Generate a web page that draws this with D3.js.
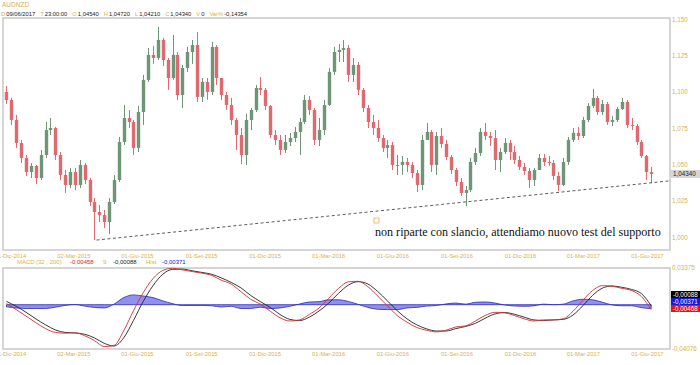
<!DOCTYPE html>
<html>
<head>
<meta charset="utf-8">
<script src="https://cdn.jsdelivr.net/npm/d3@7"></script>
<style>
body { margin: 0; background: #fff; }
text { font-family: "Liberation Sans", Arial, sans-serif; }
</style>
</head>
<body>
<div id="chart"></div>
<script>

// weekly candles, AUDNZD, first week centred on 26 Nov 2014
var firstWeek = new Date(2014, 10, 26);

var opens = [1.0998,1.0943,1.0805,1.0647,1.0544,1.0447,1.0489,1.0406,1.0564,1.0736,
  1.0750,1.0564,1.0427,1.0358,1.0447,1.0358,1.0496,1.0392,1.0241,1.0172,
  1.0151,1.0103,1.0241,1.0392,1.0654,1.0819,1.0791,1.0613,1.0860,1.1081,
  1.1253,1.1232,1.1356,1.1218,1.1094,1.1253,1.0977,1.1163,1.1273,1.1321,
  1.0964,1.1067,1.0998,1.1308,1.1094,1.0977,1.0908,1.0805,1.0702,1.0564,
  1.0805,1.0874,1.1025,1.1012,1.0902,1.0702,1.0668,1.0599,1.0654,1.0681,
  1.0723,1.0791,1.0943,1.0874,1.0668,1.0736,1.0908,1.1136,1.1273,1.1287,
  1.1301,1.1115,1.1184,1.1012,1.0888,1.0791,1.0750,1.0681,1.0613,1.0633,
  1.0496,1.0496,1.0516,1.0496,1.0440,1.0358,1.0668,1.0723,1.0496,1.0695,
  1.0640,1.0551,1.0461,1.0379,1.0303,1.0323,1.0516,1.0578,1.0723,1.0695,
  1.0681,1.0530,1.0585,1.0647,1.0585,1.0530,1.0482,1.0454,1.0392,1.0461,
  1.0544,1.0516,1.0509,1.0420,1.0358,1.0516,1.0668,1.0716,1.0695,1.0805,
  1.0902,1.0957,1.0860,1.0915,1.0791,1.0805,1.0881,1.0929,1.0771,1.0764,
  1.0654,1.0557,1.0447];
var highs = [1.1039,1.0957,1.0840,1.0668,1.0564,1.0509,1.0496,1.0599,1.0791,1.0819,
  1.0757,1.0585,1.0461,1.0475,1.0475,1.0530,1.0509,1.0406,1.0268,1.0220,
  1.0186,1.0268,1.0427,1.0688,1.0908,1.0874,1.0805,1.0902,1.1115,1.1301,
  1.1315,1.1445,1.1370,1.1232,1.1390,1.1273,1.1184,1.1308,1.1356,1.1411,
  1.1094,1.1094,1.1342,1.1321,1.1081,1.0998,1.0957,1.0819,1.0750,1.0847,
  1.0888,1.1046,1.1101,1.1025,1.0908,1.0736,1.0702,1.0702,1.0716,1.0757,
  1.0819,1.0977,1.0970,1.0888,1.0819,1.0943,1.1163,1.1308,1.1328,1.1356,
  1.1321,1.1232,1.1204,1.1025,1.0908,1.0840,1.0805,1.0702,1.0668,1.0654,
  1.0564,1.0557,1.0544,1.0516,1.0461,1.0702,1.0785,1.0736,1.0723,1.0750,
  1.0668,1.0564,1.0475,1.0406,1.0351,1.0544,1.0613,1.0750,1.0785,1.0723,
  1.0736,1.0613,1.0681,1.0668,1.0626,1.0557,1.0509,1.0475,1.0475,1.0571,
  1.0571,1.0557,1.0530,1.0447,1.0544,1.0688,1.0750,1.0757,1.0826,1.0922,
  1.1019,1.0970,1.0943,1.0929,1.0833,1.0895,1.0957,1.0943,1.0819,1.0778,
  1.0668,1.0564,1.0482];
var lows = [1.0915,1.0771,1.0613,1.0509,1.0420,1.0406,1.0365,1.0392,1.0544,1.0702,
  1.0530,1.0392,1.0303,1.0337,1.0323,1.0337,1.0365,1.0213,0.9979,1.0103,
  1.0062,1.0021,1.0227,1.0379,1.0633,1.0750,1.0564,1.0585,1.0771,1.1067,
  1.1191,1.1218,1.1177,1.1012,1.1081,1.0943,1.0888,1.1136,1.1191,1.0929,
  1.0929,1.0943,1.0977,1.1046,1.0943,1.0874,1.0771,1.0599,1.0502,1.0496,
  1.0736,1.0860,1.0977,1.0874,1.0681,1.0633,1.0564,1.0578,1.0626,1.0654,
  1.0564,1.0778,1.0840,1.0633,1.0626,1.0702,1.0902,1.1115,1.1204,1.1204,
  1.1067,1.1067,1.0977,1.0860,1.0750,1.0702,1.0654,1.0585,1.0544,1.0461,
  1.0427,1.0427,1.0447,1.0406,1.0310,1.0323,1.0668,1.0447,1.0427,1.0613,
  1.0530,1.0434,1.0351,1.0282,1.0213,1.0310,1.0496,1.0557,1.0668,1.0626,
  1.0461,1.0447,1.0571,1.0530,1.0502,1.0461,1.0427,1.0337,1.0351,1.0461,
  1.0489,1.0489,1.0392,1.0317,1.0351,1.0496,1.0654,1.0668,1.0681,1.0791,
  1.0888,1.0840,1.0840,1.0771,1.0764,1.0791,1.0874,1.0750,1.0736,1.0633,
  1.0544,1.0392,1.0372];
var closes = [1.0943,1.0805,1.0647,1.0544,1.0447,1.0489,1.0406,1.0564,1.0736,1.0750,
  1.0564,1.0427,1.0358,1.0447,1.0358,1.0496,1.0392,1.0241,1.0172,1.0151,
  1.0103,1.0241,1.0392,1.0654,1.0819,1.0791,1.0613,1.0860,1.1081,1.1253,
  1.1232,1.1356,1.1218,1.1094,1.1253,1.0977,1.1163,1.1273,1.1321,1.0964,
  1.1067,1.0998,1.1308,1.1094,1.0977,1.0908,1.0805,1.0702,1.0564,1.0805,
  1.0874,1.1025,1.1012,1.0902,1.0702,1.0668,1.0599,1.0654,1.0681,1.0723,
  1.0791,1.0943,1.0874,1.0668,1.0736,1.0908,1.1136,1.1273,1.1287,1.1301,
  1.1115,1.1184,1.1012,1.0888,1.0791,1.0750,1.0681,1.0613,1.0633,1.0496,
  1.0496,1.0516,1.0496,1.0440,1.0358,1.0668,1.0723,1.0496,1.0695,1.0640,
  1.0551,1.0461,1.0379,1.0303,1.0323,1.0516,1.0578,1.0723,1.0695,1.0681,
  1.0530,1.0585,1.0647,1.0585,1.0530,1.0482,1.0454,1.0392,1.0461,1.0544,
  1.0516,1.0509,1.0420,1.0358,1.0516,1.0668,1.0716,1.0695,1.0805,1.0902,
  1.0957,1.0860,1.0915,1.0791,1.0805,1.0881,1.0929,1.0771,1.0764,1.0654,
  1.0557,1.0447,1.0434];

// MACD (32,200) signal 9, one value every two weeks from firstWeek
var macdLine = [0.0010,-0.0045,-0.0105,-0.0165,-0.0220,-0.0255,-0.0262,-0.0258,-0.0285,-0.0330,
  -0.0385,-0.0375,-0.0240,-0.0055,0.0110,0.0240,0.0315,0.0335,0.0320,0.0305,
  0.0290,0.0270,0.0225,0.0190,0.0120,0.0050,0.0005,-0.0060,-0.0120,-0.0150,
  -0.0140,-0.0090,-0.0030,0.0060,0.0150,0.0210,0.0215,0.0165,0.0080,-0.0010,
  -0.0100,-0.0160,-0.0210,-0.0235,-0.0250,-0.0235,-0.0205,-0.0195,-0.0150,-0.0100,
  -0.0070,-0.0075,-0.0100,-0.0130,-0.0150,-0.0140,-0.0140,-0.0130,-0.0060,0.0040,
  0.0130,0.0175,0.0170,0.0150,0.0130,0.0075,-0.0046];
var signalLine = [0.0030,-0.0015,-0.0070,-0.0130,-0.0185,-0.0232,-0.0255,-0.0260,-0.0272,-0.0305,
  -0.0355,-0.0380,-0.0305,-0.0145,0.0030,0.0175,0.0280,0.0325,0.0328,0.0312,
  0.0297,0.0280,0.0246,0.0205,0.0155,0.0085,0.0028,-0.0025,-0.0090,-0.0135,
  -0.0146,-0.0115,-0.0058,0.0015,0.0105,0.0180,0.0212,0.0190,0.0122,0.0035,
  -0.0055,-0.0130,-0.0185,-0.0222,-0.0242,-0.0242,-0.0220,-0.0200,-0.0172,-0.0125,
  -0.0085,-0.0072,-0.0088,-0.0115,-0.0140,-0.0145,-0.0140,-0.0135,-0.0095,-0.0010,
  0.0085,0.0152,0.0172,0.0160,0.0140,0.0102,-0.0009];
var histValues = [-0.0020,-0.0030,-0.0035,-0.0035,-0.0035,-0.0023,-0.0007,0.0002,-0.0013,-0.0025,
  -0.0030,0.0005,0.0065,0.0090,0.0080,0.0065,0.0035,0.0010,-0.0008,-0.0007,
  -0.0007,-0.0010,-0.0021,-0.0015,-0.0035,-0.0035,-0.0023,-0.0035,-0.0030,-0.0015,
  0.0006,0.0025,0.0028,0.0045,0.0045,0.0030,0.0003,-0.0025,-0.0042,-0.0045,
  -0.0045,-0.0030,-0.0025,-0.0013,-0.0008,0.0007,0.0015,0.0005,0.0022,0.0025,
  0.0015,-0.0003,-0.0012,-0.0015,-0.0010,0.0005,0.0000,0.0005,0.0035,0.0050,
  0.0045,0.0023,-0.0002,-0.0010,-0.0010,-0.0027,-0.0037];

// support line (date, price)
var supportDates = [new Date(2015, 3, 4), new Date(2017, 6, 3)];
var supportValues = [0.9979, 1.0386];

var priceTicks = [1.000, 1.025, 1.050, 1.075, 1.100, 1.125, 1.150];
var dateTicks = [new Date(2014,11,1), new Date(2015,2,2), new Date(2015,5,1), new Date(2015,8,1),
  new Date(2015,11,1), new Date(2016,2,1), new Date(2016,5,1), new Date(2016,8,1),
  new Date(2016,11,1), new Date(2017,2,1), new Date(2017,5,1)];
var dateLabels = ["01-Dic-2014","02-Mar-2015","01-Giu-2015","01-Set-2015","01-Dic-2015",
  "01-Mar-2016","01-Giu-2016","01-Set-2016","01-Dic-2016","01-Mar-2017","01-Giu-2017"];

var GOLD = "#d8b24c", BORDER = "#c8c8c8";
var width = 700, height = 365;
var left = 3, right = 670;

var svg = d3.select("#chart")
    .append("svg")
    .attr("width", width)
    .attr("height", height);

var dates = closes.map(function(d, i){ return d3.timeDay.offset(firstWeek, 7*i); });
var macdDates = macdLine.map(function(d, i){ return d3.timeDay.offset(firstWeek, 14*i); });

var x = d3.scaleTime()
    .domain([new Date(2014, 10, 21), new Date(2017, 6, 4)])
    .range([left, right]);

var y = d3.scaleLinear().domain([1.000, 1.150]).range([237, 19]);
var yM = d3.scaleLinear().domain([-0.04076, 0.03375]).range([349, 268]);

var comma = function(f){ return function(v){ return d3.format(f)(v).replace(".", ",").replace("−", "-"); }; };

// header: label / value pairs laid out one after the other
svg.append("text").attr("x", 2).attr("y", 7).attr("fill", GOLD)
    .style("font-size", "6.5px").text("AUDNZD");

var header = [["D", "09/06/2017"], ["T", "23:00:00"], ["O", "1,04540"], ["H", "1,04720"],
  ["L", "1,04210"], ["C", "1,04340"], ["V", "0"], ["Var%", "-0,14354"]];
var hx = 1;
header.forEach(function(h){
  var t1 = svg.append("text").attr("x", hx).attr("y", 16).attr("fill", GOLD)
      .style("font-size", "5.8px").text(h[0]);
  hx += t1.node().getComputedTextLength() + 1;
  var t2 = svg.append("text").attr("x", hx).attr("y", 16).attr("fill", "#222")
      .style("font-size", "5.8px").text(h[1]);
  hx += t2.node().getComputedTextLength() + 5;
});

// panel frames
svg.append("path")
    .attr("d", "M" + left + ",18H" + right + "V250H" + left + "Z")
    .attr("fill", "none").attr("stroke", BORDER).attr("stroke-width", 1.5);
svg.append("path")
    .attr("d", "M" + left + ",268H" + right + "V349H" + left + "Z")
    .attr("fill", "none").attr("stroke", BORDER).attr("stroke-width", 1.5);

// price axis on the right
var yAxis = d3.axisRight(y).tickValues(priceTicks).tickSize(0).tickPadding(2).tickFormat(comma(".3f"));
svg.append("g").attr("transform", "translate(" + right + ",0)").call(yAxis)
    .call(function(g){ g.select(".domain").remove(); })
    .selectAll("text").attr("fill", GOLD).style("font-size", "6.3px");

// date axes (first label runs off the left edge, as in the original)
var xAxis = d3.axisBottom(x).tickValues(dateTicks).tickSize(0).tickPadding(0)
    .tickFormat(function(d, i){ return dateLabels[i]; });
[254, 352].forEach(function(ty){
  svg.append("g").attr("transform", "translate(0," + ty + ")").call(xAxis)
      .call(function(g){ g.select(".domain").remove(); })
      .selectAll("text").attr("fill", GOLD).style("font-size", "5.8px");
});

// candles
var candles = svg.append("g");
var cw = 3.4;
closes.forEach(function(c, i){
  var o = opens[i], up = c >= o;
  var col = up ? "#6f9577" : "#de6a70";
  var cx = Math.round(x(dates[i])) + 0.5;
  candles.append("line")
      .attr("x1", cx).attr("x2", cx)
      .attr("y1", y(highs[i])).attr("y2", y(lows[i]))
      .attr("stroke", col).attr("stroke-width", 1);
  candles.append("rect")
      .attr("x", cx - cw/2).attr("width", cw)
      .attr("y", y(Math.max(o, c)))
      .attr("height", Math.max(1, Math.abs(y(o) - y(c))))
      .attr("fill", col);
});

// support trend line
svg.append("line")
    .attr("x1", x(supportDates[0])).attr("y1", y(supportValues[0]))
    .attr("x2", x(supportDates[1])).attr("y2", y(supportValues[1]))
    .attr("stroke", "#333").attr("stroke-width", 0.8).attr("stroke-dasharray", "3,2.5");

// last price badge
svg.append("rect").attr("x", 671).attr("y", y(closes[closes.length-1]) - 4)
    .attr("width", 29).attr("height", 8).attr("fill", "#d6d6d6");
svg.append("text").attr("x", 673).attr("y", y(closes[closes.length-1]) + 2.2)
    .attr("fill", "#222").style("font-size", "6.3px").text("1,04340");

// annotation
svg.append("rect").attr("x", 374).attr("y", 218).attr("width", 5).attr("height", 5)
    .attr("fill", "none").attr("stroke", "#e0a040").attr("stroke-width", 0.7);
var note = svg.append("text").attr("x", 375).attr("y", 236)
    .style("font-family", "'Liberation Serif', 'Times New Roman', serif")
    .style("font-size", "12.5px").attr("fill", "#111")
    .text("non riparte con slancio, attendiamo nuovo test del supporto");
var nw = note.node().getComputedTextLength();
note.style("font-size", (12.5 * 286 / nw) + "px");

// MACD header
var mh = [["MACD", GOLD, 17], ["(32 , 200)", GOLD, 36], ["-0,00458", "#e02020", 70], ["9", GOLD, 103],
  ["-0,00088", "#222", 113], ["Hist", GOLD, 146], ["-0,00371", "#2020c0", 162]];
svg.selectAll(".mh").data(mh).enter().append("text")
    .attr("class", "mh")
    .attr("x", function(d){ return d[2]; })
    .attr("y", 264)
    .attr("fill", function(d){ return d[1]; })
    .style("font-size", "6px")
    .text(function(d){ return d[0]; });

// histogram
var area = d3.area()
    .x(function(d, i){ return x(macdDates[i]); })
    .y0(yM(0))
    .y1(function(d){ return yM(d); })
    .curve(d3.curveMonotoneX);
svg.append("path").datum(histValues).attr("d", area)
    .attr("fill", "#9090ee").attr("stroke", "#2a2ab8").attr("stroke-width", 0.8);

var line = d3.line()
    .x(function(d, i){ return x(macdDates[i]); })
    .y(function(d){ return yM(d); })
    .curve(d3.curveMonotoneX);
svg.append("path").datum(signalLine).attr("d", line)
    .attr("fill", "none").attr("stroke", "#222").attr("stroke-width", 0.9);
svg.append("path").datum(macdLine).attr("d", line)
    .attr("fill", "none").attr("stroke", "#d03030").attr("stroke-width", 0.9);

// MACD scale labels
svg.append("text").attr("x", 672).attr("y", 270).attr("fill", GOLD).style("font-size", "6.3px").text("0,03375");
svg.append("text").attr("x", 672).attr("y", 351).attr("fill", GOLD).style("font-size", "6.3px").text("-0,04076");

// MACD badges
var badges = [["-0,00088", "#000", 291], ["-0,00371", "#1818d8", 298], ["-0,00468", "#e81010", 305]];
badges.forEach(function(b){
  svg.append("rect").attr("x", 671).attr("y", b[2]).attr("width", 29).attr("height", 7).attr("fill", b[1]);
  svg.append("text").attr("x", 673).attr("y", b[2] + 5.6).attr("fill", "#fff")
      .style("font-size", "6.3px").text(b[0]);
});

</script>
</body>
</html>
